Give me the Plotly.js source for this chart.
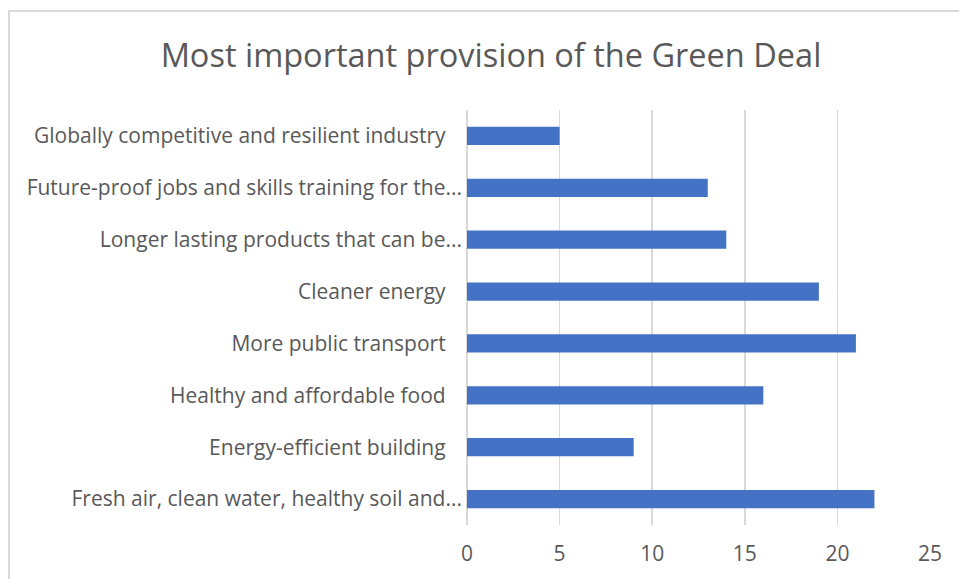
<!DOCTYPE html>
<html><head><meta charset="utf-8">
<script src="https://cdn.plot.ly/plotly-3.0.1.min.js"></script>
<style>
html,body{margin:0;padding:0;background:#fff;overflow:hidden;}
#wrap{position:relative;width:959px;height:579px;}
#chart{position:absolute;left:0;top:0;width:959px;height:579px;}
#frame{position:absolute;left:8px;top:10px;width:1000px;height:700px;border:2px solid #d9d9d9;pointer-events:none;box-sizing:border-box;}
</style></head>
<body><div id="wrap"><div id="chart"></div><div id="frame"></div></div>
<script>
const categories = [
  "Globally competitive and resilient industry\u00a0\u00a0\u00a0",
  "Future-proof jobs and skills training for the...",
  "Longer lasting products that can be...",
  "Cleaner energy\u00a0\u00a0\u00a0",
  "More public transport\u00a0\u00a0\u00a0",
  "Healthy and affordable food\u00a0\u00a0\u00a0",
  "Energy-efficient building\u00a0\u00a0\u00a0",
  "Fresh air, clean water, healthy soil and..."
];
const values = [5, 13, 14, 19, 21, 16, 9, 22];
const xTicks = [0, 5, 10, 15, 20, 25];
const titleText = "Most important provision of the Green Deal";

const font = "Open Sans, Noto Sans, sans-serif";
Plotly.newPlot('chart', [{
  type: 'bar', orientation: 'h', y: categories, x: values,
  marker: {color: '#4472C4', line: {width: 0}}, hoverinfo: 'none'
}], {
  width: 959, height: 579,
  margin: {l: 467, r: 29, t: 110, b: 54, pad: 0},
  paper_bgcolor: '#fff', plot_bgcolor: '#fff',
  bargap: 0.65,
  showlegend: false,
  title: {text: titleText, x: 491/959, xref: 'container', xanchor: 'center',
          y: 1 - 56/579, yref: 'container', yanchor: 'middle',
          font: {family: font, size: 32.5, color: '#595959'}},
  xaxis: {range: [0, 25], tickvals: xTicks, ticktext: xTicks.map(String),
          showgrid: true, gridcolor: '#d9d9d9', gridwidth: 1.5,
          zeroline: true, zerolinecolor: '#d9d9d9', zerolinewidth: 1.5,
          showline: false, ticks: '', ticklabelstandoff: 14,
          tickfont: {family: font, size: 21, color: '#595959'}, fixedrange: true},
  yaxis: {autorange: 'reversed', type: 'category', showgrid: false, zeroline: false,
          showline: false, ticks: '', ticklabelstandoff: 4,
          tickfont: {family: font, size: 21, color: '#595959'}, fixedrange: true}
}, {displayModeBar: false, staticPlot: true});
</script></body></html>
